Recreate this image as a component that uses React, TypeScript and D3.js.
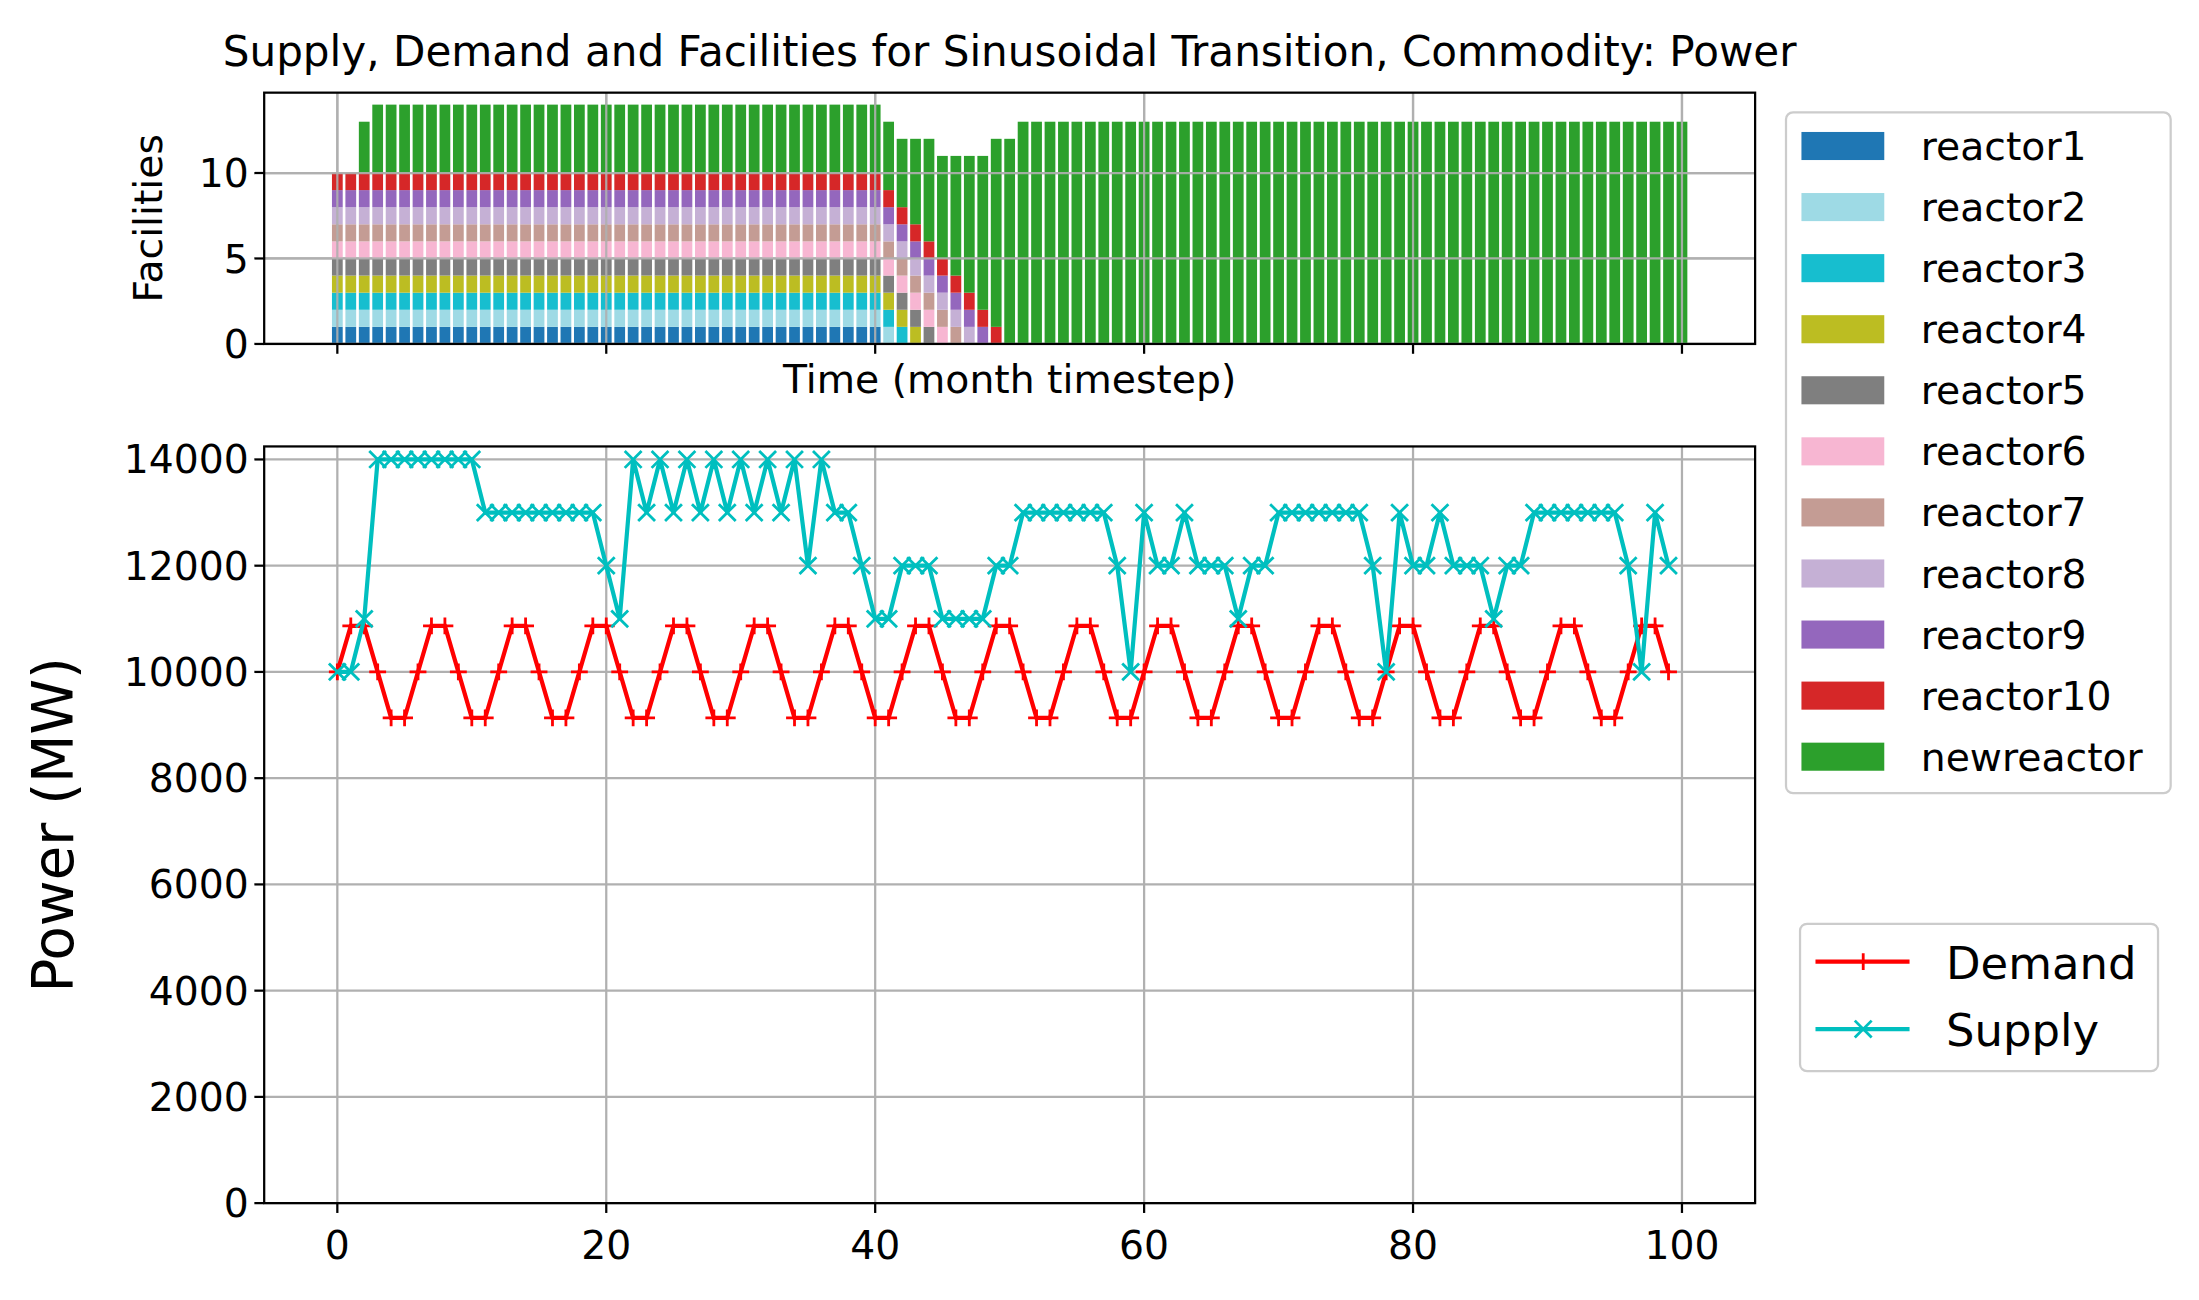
import React from "react";
import * as d3 from "d3";

const times = d3.range(0, 101);
const reactorNames = ["reactor1","reactor2","reactor3","reactor4","reactor5","reactor6","reactor7","reactor8","reactor9","reactor10"];
const reactorColors = ["#1f77b4","#9edae5","#17becf","#bcbd22","#7f7f7f","#f7b6d2","#c49c94","#c5b0d5","#9467bd","#d62728"];
// last timestep each legacy reactor is still operating
const reactorLastActive = [40,41,42,43,44,45,46,47,48,49];
const newReactorCount = [
  0,0,3,4,4,4,4,4,4,4, 4,4,4,4,4,4,4,4,4,4,
  4,4,4,4,4,4,4,4,4,4, 4,4,4,4,4,4,4,4,4,4,
  4,4,4,5,6,6,7,8,9,11, 12,13,13,13,13,13,13,13,13,13,
  13,13,13,13,13,13,13,13,13,13, 13,13,13,13,13,13,13,13,13,13,
  13,13,13,13,13,13,13,13,13,13, 13,13,13,13,13,13,13,13,13,13, 13
];
const newColor = "#2ca02c";

const demand = [
  10000,10866,10866,10000,9134,9134, 10000,10866,10866,10000,9134,9134,
  10000,10866,10866,10000,9134,9134, 10000,10866,10866,10000,9134,9134,
  10000,10866,10866,10000,9134,9134, 10000,10866,10866,10000,9134,9134,
  10000,10866,10866,10000,9134,9134, 10000,10866,10866,10000,9134,9134,
  10000,10866,10866,10000,9134,9134, 10000,10866,10866,10000,9134,9134,
  10000,10866,10866,10000,9134,9134, 10000,10866,10866,10000,9134,9134,
  10000,10866,10866,10000,9134,9134, 10000,10866,10866,10000,9134,9134,
  10000,10866,10866,10000,9134,9134, 10000,10866,10866,10000,9134,9134,
  10000,10866,10866,10000
];
const supply = [
  10000,10000,11000,14000,14000,14000,14000,14000,14000,14000,
  14000,13000,13000,13000,13000,13000,13000,13000,13000,13000,
  12000,11000,14000,13000,14000,13000,14000,13000,14000,13000,
  14000,13000,14000,13000,14000,12000,14000,13000,13000,12000,
  11000,11000,12000,12000,12000,11000,11000,11000,11000,12000,
  12000,13000,13000,13000,13000,13000,13000,13000,12000,10000,
  13000,12000,12000,13000,12000,12000,12000,11000,12000,12000,
  13000,13000,13000,13000,13000,13000,13000,12000,10000,13000,
  12000,12000,13000,12000,12000,12000,11000,12000,12000,13000,
  13000,13000,13000,13000,13000,13000,12000,10000,13000,12000
];
const xTicks = [0,20,40,60,80,100];
const topYTicks = [0,5,10];
const botYTicks = [0,2000,4000,6000,8000,10000,12000,14000];

const FONT = "DejaVu Sans, sans-serif";
const L = 188, R = 1250;
const T1 = 66, B1 = 245, T2 = 318, B2 = 857;
const GRID = "#b0b0b0";

export default function App() {
  const x = d3.scaleLinear().domain([-5.44, 105.44]).range([L, R]);
  const y1 = d3.scaleLinear().domain([0, 14.7]).range([B1, T1]);
  const y2 = d3.scaleLinear().domain([0, 14245]).range([B2, T2]);
  const bw = x(0.8) - x(0);

  const rects: any[] = [];
  times.forEach((t) => {
    let base = 0;
    reactorNames.forEach((n, k) => {
      if (t <= reactorLastActive[k]) {
        rects.push(<rect key={n + t} x={x(t - 0.4)} width={bw} y={y1(base + 1)} height={y1(base) - y1(base + 1)} fill={reactorColors[k]} />);
        base += 1;
      }
    });
    const c = newReactorCount[t];
    if (c > 0) rects.push(<rect key={"n" + t} x={x(t - 0.4)} width={bw} y={y1(base + c)} height={y1(base) - y1(base + c)} fill={newColor} />);
  });

  const line = d3.line<number>().x((_, i) => x(i)).y((v) => y2(v));
  const ms = 6;

  const legendItems = [...reactorNames.map((n, i) => ({ n, c: reactorColors[i] })), { n: "newreactor", c: newColor }];

  return (
    <svg width={2199} height={1300} viewBox="0 0 1566 926" style={{ position: "absolute", left: 0, top: 0, background: "#fff" }}>
      <rect width={1566} height={926} fill="#fff" />
      <text x={719} y={47} textAnchor="middle" fontFamily={FONT} fontSize={30}>Supply, Demand and Facilities for Sinusoidal Transition, Commodity: Power</text>

      {/* top axes */}
      {xTicks.map((t) => <line key={"gx1" + t} x1={x(t)} x2={x(t)} y1={T1} y2={B1} stroke={GRID} strokeWidth={1.6} />)}
      {topYTicks.map((t) => <line key={"gy1" + t} x1={L} x2={R} y1={y1(t)} y2={y1(t)} stroke={GRID} strokeWidth={1.6} />)}
      {rects}
      {topYTicks.map((t) => <line key={"gy1b" + t} x1={L} x2={R} y1={y1(t)} y2={y1(t)} stroke={GRID} strokeWidth={1.6} opacity={0.9} />)}
      {xTicks.map((t) => <line key={"gx1b" + t} x1={x(t)} x2={x(t)} y1={T1} y2={B1} stroke={GRID} strokeWidth={1.6} opacity={0.9} />)}
      <rect x={L} y={T1} width={R - L} height={B1 - T1} fill="none" stroke="#000" strokeWidth={1.6} />
      {xTicks.map((t) => <line key={"tx1" + t} x1={x(t)} x2={x(t)} y1={B1} y2={B1 + 7} stroke="#000" strokeWidth={1.6} />)}
      {topYTicks.map((t) => (
        <g key={"ty1" + t}>
          <line x1={L - 7} x2={L} y1={y1(t)} y2={y1(t)} stroke="#000" strokeWidth={1.6} />
          <text x={L - 11} y={y1(t) + 10} textAnchor="end" fontFamily={FONT} fontSize={28}>{t}</text>
        </g>
      ))}
      <text x={719} y={280} textAnchor="middle" fontFamily={FONT} fontSize={28}>Time (month timestep)</text>
      <text transform={`translate(115,${(T1 + B1) / 2}) rotate(-90)`} textAnchor="middle" fontFamily={FONT} fontSize={28}>Facilities</text>

      {/* bottom axes */}
      {xTicks.map((t) => <line key={"gx2" + t} x1={x(t)} x2={x(t)} y1={T2} y2={B2} stroke={GRID} strokeWidth={1.6} />)}
      {botYTicks.map((t) => <line key={"gy2" + t} x1={L} x2={R} y1={y2(t)} y2={y2(t)} stroke={GRID} strokeWidth={1.6} />)}
      <path d={line(demand) || ""} fill="none" stroke="#ff0000" strokeWidth={3} />
      {demand.map((v, i) => (
        <path key={"dm" + i} d={`M${x(i) - ms},${y2(v)}H${x(i) + ms}M${x(i)},${y2(v) - ms}V${y2(v) + ms}`} stroke="#ff0000" strokeWidth={2} />
      ))}
      <path d={line(supply) || ""} fill="none" stroke="#00bfbf" strokeWidth={3} />
      {supply.map((v, i) => (
        <path key={"sm" + i} d={`M${x(i) - ms},${y2(v) - ms}L${x(i) + ms},${y2(v) + ms}M${x(i) - ms},${y2(v) + ms}L${x(i) + ms},${y2(v) - ms}`} stroke="#00bfbf" strokeWidth={2} />
      ))}
      <rect x={L} y={T2} width={R - L} height={B2 - T2} fill="none" stroke="#000" strokeWidth={1.6} />
      {xTicks.map((t) => (
        <g key={"tx2" + t}>
          <line x1={x(t)} x2={x(t)} y1={B2} y2={B2 + 7} stroke="#000" strokeWidth={1.6} />
          <text x={x(t)} y={B2 + 40} textAnchor="middle" fontFamily={FONT} fontSize={28}>{t}</text>
        </g>
      ))}
      {botYTicks.map((t) => (
        <g key={"ty2" + t}>
          <line x1={L - 7} x2={L} y1={y2(t)} y2={y2(t)} stroke="#000" strokeWidth={1.6} />
          <text x={L - 11} y={y2(t) + 10} textAnchor="end" fontFamily={FONT} fontSize={28}>{t}</text>
        </g>
      ))}
      <text transform={`translate(52,${(T2 + B2) / 2}) rotate(-90)`} textAnchor="middle" fontFamily={FONT} fontSize={40}>Power (MW)</text>

      {/* facilities legend */}
      <rect x={1272} y={80} width={274} height={485} rx={5} fill="#fff" stroke="#cccccc" strokeWidth={1.6} />
      {legendItems.map((it, i) => (
        <g key={"lg" + it.n}>
          <rect x={1283} y={104 + i * 43.5 - 10} width={59} height={20} fill={it.c} />
          <text x={1368} y={104 + i * 43.5 + 10} fontFamily={FONT} fontSize={28}>{it.n}</text>
        </g>
      ))}

      {/* power legend */}
      <rect x={1282} y={658} width={255} height={105} rx={5} fill="#fff" stroke="#cccccc" strokeWidth={1.6} />
      <line x1={1293} x2={1360} y1={685} y2={685} stroke="#ff0000" strokeWidth={3} />
      <path d={`M${1327 - ms},685H${1327 + ms}M1327,${685 - ms}V${685 + ms}`} stroke="#ff0000" strokeWidth={2} />
      <text x={1386} y={697} fontFamily={FONT} fontSize={32}>Demand</text>
      <line x1={1293} x2={1360} y1={733} y2={733} stroke="#00bfbf" strokeWidth={3} />
      <path d={`M${1327 - ms},${733 - ms}L${1327 + ms},${733 + ms}M${1327 - ms},${733 + ms}L${1327 + ms},${733 - ms}`} stroke="#00bfbf" strokeWidth={2} />
      <text x={1386} y={745} fontFamily={FONT} fontSize={32}>Supply</text>
    </svg>
  );
}
